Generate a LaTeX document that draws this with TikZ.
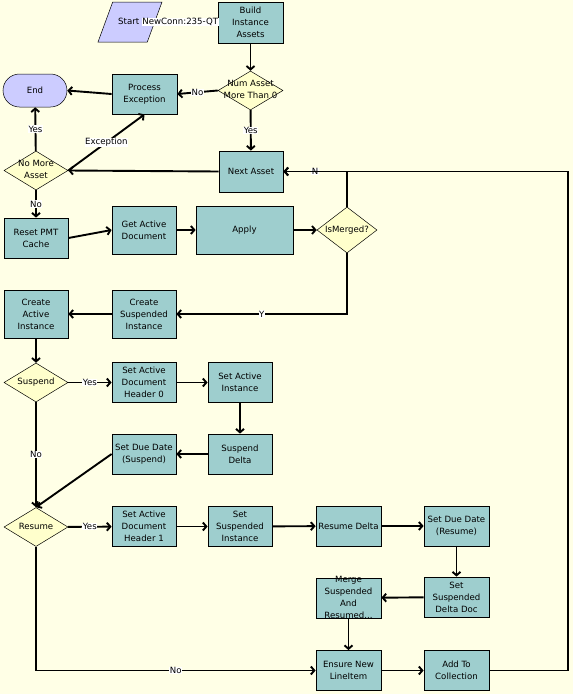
\documentclass[tikz,border=0pt]{standalone}
\usepackage{fontspec}
\setmainfont{DejaVu Sans}
\usepackage{color}
\usetikzlibrary{shapes.geometric}
\usetikzlibrary{shapes.misc}
\usetikzlibrary{arrows.meta}

\definecolor{canvas}{HTML}{FFFFE6}
\definecolor{taskfill}{HTML}{9ECECE}
\definecolor{testfill}{HTML}{FFFFCC}
\definecolor{termfill}{HTML}{CCCCFF}

% text that may spill out of its shape
\newcommand{\spill}[1]{\smash{\makebox[0pt]{\raisebox{-2.1pt}{\begin{tabular}{@{}c@{}}#1\end{tabular}}}}}
\newcommand{\hilite}[1]{{\setlength{\fboxsep}{0.5pt}\colorbox{white}{#1}}}

\begin{document}
\begin{tikzpicture}[x=1pt, y=-1pt, font=\fontsize{8.6pt}{12pt}\selectfont]%
	\tikzstyle{task}=[rectangle, draw=black, fill=taskfill, line width=0.8pt, minimum width=64pt, minimum height=40pt, inner sep=0pt, align=center];
	\tikzstyle{test}=[diamond, draw=black, fill=testfill, line width=0.5pt, minimum width=64pt, minimum height=39pt, inner sep=0pt];
	\tikzstyle{term}=[draw=black, fill=termfill, line width=0.5pt, inner sep=0pt];
	\tikzstyle{flow}=[draw, line width=1.9pt, -{Straight Barb[length=3.5pt, width=8pt]}];
	\tikzstyle{lbl}=[fill=white, inner sep=0.5pt];
	\fill[canvas] (0,0) rectangle (573,694);
	\useasboundingbox (0,0) rectangle (573,694);
	% top
	\node[task, minimum width=65pt, minimum height=41pt] (build) at (250.5,22.5) {Build\\Instance\\Assets};
	\node[term, trapezium, trapezium left angle=67, trapezium right angle=113, trapezium stretches=true, inner sep=3pt, minimum width=64pt, minimum height=40pt] (start) at (130,22) {};
	\node[anchor=west, inner sep=0pt] (startlbl) at ([xshift=-12pt]start.center) {Start \hilite{NewConn:235-QT}};
	\node[test, minimum width=65pt] (numasset) at (250.5,90.5) {\spill{Num Asset\\More Than 0}};
	\node[task, minimum width=65pt] (procexc) at (144.5,94) {Process\\Exception};
	\node[term, rounded rectangle, minimum width=64pt, minimum height=33pt] (endnode) at (35,90.5) {End};
	\node[test] (nomore) at (36,170.5) {\spill{No More\\Asset}};
	\node[task, minimum height=41pt] (nextasset) at (251,171.5) {Next Asset};
	% apply
	\node[task] (resetpmt) at (36,238) {Reset PMT\\Cache};
	\node[task, minimum height=48pt] (getactive) at (144,230) {Get Active\\Document};
	\node[task, minimum width=97pt, minimum height=48pt] (apply) at (244.5,230) {Apply};
	\node[test, minimum width=60pt, minimum height=46pt] (ismerged) at (347,230) {\spill{IsMerged?}};
	\node[task, minimum height=48pt] (createsusp) at (144,314) {Create\\Suspended\\Instance};
	\node[task, minimum height=48pt] (createact) at (36,314) {Create\\Active\\Instance};
	% suspend
	\node[test] (suspend) at (36,382.5) {\spill{Suspend}};
	\node[task] (hdrzero) at (144,382.5) {Set Active\\Document\\Header 0};
	\node[task] (setactinst) at (240,382.5) {Set Active\\Instance};
	\node[task] (suspdelta) at (240,454) {Suspend\\Delta};
	\node[task] (duesusp) at (144,454) {Set Due Date\\(Suspend)};
	% resume
	\node[test] (resume) at (36,527) {\spill{Resume}};
	\node[task] (hdrone) at (144,526.5) {Set Active\\Document\\Header 1};
	\node[task] (setsuspinst) at (240,526.5) {Set\\Suspended\\Instance};
	\node[task, minimum width=65pt] (resdelta) at (348.5,526) {Resume Delta};
	\node[task, minimum width=65pt] (dueres) at (456.5,526) {Set Due Date\\(Resume)};
	\node[task, minimum width=65pt] (setsuspdoc) at (456.5,597) {Set\\Suspended\\Delta Doc};
	\node[task, minimum width=65pt] (merge) at (348.5,598) {\spill{Merge\\Suspended\\And\\Resumed...}};
	\node[task, minimum width=65pt] (ensure) at (348.5,670.5) {Ensure New\\LineItem};
	\node[task, minimum width=65pt] (addcoll) at (456.5,670.5) {Add To\\Collection};
	\coordinate (loopcorner) at (568,171.5);
	% connectors
	\draw[flow] (build) -- (numasset);
	\draw[flow] (numasset.west) -- node[lbl] {No} (procexc.east);
	\draw[flow] (procexc.west) -- (endnode.east);
	\draw[flow] (numasset) -- node[lbl] {Yes} (nextasset);
	\draw[flow] (nextasset.west) -- (nomore.east);
	\draw[flow] (nomore) -- node[lbl] {Yes} (endnode);
	\draw[flow] (nomore.east) -- node[lbl] {Exception} (procexc.south);
	\draw[flow] (nomore) -- node[lbl] {No} (resetpmt);
	\draw[flow] (resetpmt.east) -- (getactive.west);
	\draw[flow] (getactive) -- (apply);
	\draw[flow] (apply) -- (ismerged);
	\draw[flow] (ismerged.north) |- node[lbl, pos=0.75] {N} (nextasset.east);
	\draw[flow] (ismerged.south) |- node[lbl, pos=0.75] {Y} (createsusp.east);
	\draw[flow] (createsusp) -- (createact);
	\draw[flow] (createact) -- (suspend);
	\draw[flow] (suspend) -- node[lbl] {Yes} (hdrzero);
	\draw[flow] (hdrzero) -- (setactinst);
	\draw[flow] (setactinst) -- (suspdelta);
	\draw[flow] (suspdelta) -- (duesusp);
	\draw[flow] (duesusp.west) -- (resume.north);
	\draw[flow] (suspend) -- node[lbl] {No} (resume);
	\draw[flow] (resume) -- node[lbl] {Yes} (hdrone);
	\draw[flow] (hdrone) -- (setsuspinst);
	\draw[flow] (setsuspinst) -- (resdelta);
	\draw[flow] (resdelta) -- (dueres);
	\draw[flow] (dueres) -- (setsuspdoc);
	\draw[flow] (setsuspdoc) -- (merge);
	\draw[flow] (merge) -- (ensure);
	\draw[flow] (resume.south) |- node[lbl, pos=0.75] {No} (ensure.west);
	\draw[flow] (ensure) -- (addcoll);
	\draw[flow] (addcoll.east) -| (loopcorner) -- (nextasset.east);
\end{tikzpicture}
\end{document}
